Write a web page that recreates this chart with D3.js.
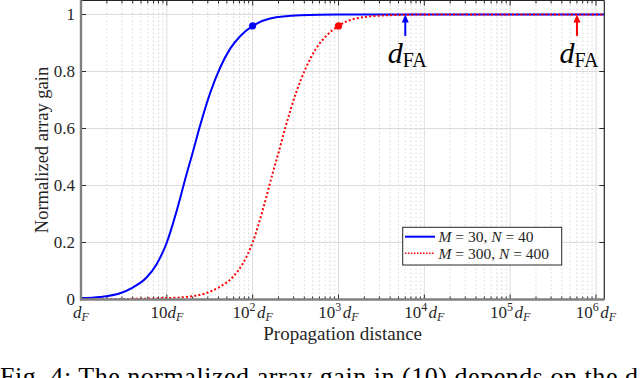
<!DOCTYPE html>
<html><head><meta charset="utf-8">
<script src="https://cdn.jsdelivr.net/npm/d3@7"></script>
<style>
html,body{margin:0;padding:0;background:#fff;}
svg{display:block;}
</style></head>
<body>
<svg id="chart" width="640" height="378"></svg>
<script>
// ---- data ----
const blueDist = [1, 1.66, 2.85, 4, 5.8, 7.6, 10, 13, 17, 20, 24.4, 32, 42, 55, 71, 100, 160, 360, 1000, 1.25e6];
const blueGain = [0.005, 0.009, 0.022, 0.042, 0.077, 0.124, 0.2, 0.31, 0.44, 0.515, 0.61, 0.725, 0.815, 0.881, 0.923, 0.96, 0.986, 0.997, 1.0, 1.0];
const redDist = [1, 3, 10, 16.6, 28.5, 40, 58, 76, 100, 130, 170, 200, 244, 320, 420, 550, 710, 1000, 1600, 3600, 10000, 1.25e6];
const redGain = [0.0005, 0.0018, 0.005, 0.009, 0.022, 0.042, 0.077, 0.124, 0.2, 0.31, 0.44, 0.515, 0.61, 0.725, 0.815, 0.881, 0.923, 0.96, 0.986, 0.997, 1.0, 1.0];
const markerDist = [100, 1000];
const markerGain = [0.96, 0.96];
const dfaDist = [6000, 6e5];
const seriesLabels = [["M"," = 30, ","N"," = 40"], ["M"," = 300, ","N"," = 400"]];
const seriesColors = ["#0000ff", "#ff0000"];
const xTickExp = [0, 1, 2, 3, 4, 5, 6];
const yTicks = [0, 0.2, 0.4, 0.6, 0.8, 1];
const yTickLabels = ["0", "0.2", "0.4", "0.6", "0.8", "1"];
const xTitle = "Propagation distance";
const yTitle = "Normalized array gain";
const caption = "Fig. 4: The normalized array gain in (10) depends on the d";

// ---- layout ----
const FONT = "Liberation Serif";
const L = 81, R = 604.3, T = 0.5, B = 299.5;
const svg = d3.select("#chart");
const x = d3.scaleLog().domain([1, 1.25e6]).range([L, R]);
const y = d3.scaleLinear().domain([0, 1.05]).range([B, T - 0.25]);
const txt = (sel) => sel.append("text").attr("font-family", FONT).attr("fill", "#262626");

// minor grid (vertical dotted)
const minors = [];
for (let e = 0; e <= 6; e++) for (let k = 2; k <= 9; k++) { const v = k * Math.pow(10, e); if (v < 1.25e6) minors.push(v); }
svg.append("g").selectAll("line").data(minors).join("line")
  .attr("x1", d => x(d)).attr("x2", d => x(d)).attr("y1", T).attr("y2", B)
  .attr("stroke", "#d4d4d4").attr("stroke-width", 1).attr("stroke-dasharray", "1.5,2.5");
// major grid
const majors = xTickExp.map(e => Math.pow(10, e));
svg.append("g").selectAll("line").data(majors.slice(1)).join("line")
  .attr("x1", d => x(d)).attr("x2", d => x(d)).attr("y1", T).attr("y2", B)
  .attr("stroke", "#dcdcdc").attr("stroke-width", 1);
svg.append("g").selectAll("line").data(yTicks.slice(1)).join("line")
  .attr("x1", L).attr("x2", R).attr("y1", d => y(d)).attr("y2", d => y(d))
  .attr("stroke", "#dcdcdc").attr("stroke-width", 1);

// ticks
const tk = svg.append("g").attr("stroke", "#262626").attr("stroke-width", 1);
majors.forEach(v => {
  tk.append("line").attr("x1", x(v)).attr("x2", x(v)).attr("y1", B).attr("y2", B - 5);
  tk.append("line").attr("x1", x(v)).attr("x2", x(v)).attr("y1", T).attr("y2", T + 5);
});
minors.forEach(v => {
  tk.append("line").attr("x1", x(v)).attr("x2", x(v)).attr("y1", B).attr("y2", B - 3);
  tk.append("line").attr("x1", x(v)).attr("x2", x(v)).attr("y1", T).attr("y2", T + 3);
});
yTicks.forEach(v => {
  tk.append("line").attr("x1", L).attr("x2", L + 5).attr("y1", y(v)).attr("y2", y(v));
  tk.append("line").attr("x1", R).attr("x2", R - 5).attr("y1", y(v)).attr("y2", y(v));
});

// curves
const line = d3.line().x(d => x(d[0])).y(d => y(d[1])).curve(d3.curveMonotoneX);
const blueData = blueDist.map((d, i) => [d, blueGain[i]]);
const redData = redDist.map((d, i) => [d, redGain[i]]);
svg.append("clipPath").attr("id", "clp").append("rect").attr("x", L).attr("y", T).attr("width", R - L).attr("height", B - T);
const plot = svg.append("g").attr("clip-path", "url(#clp)");
plot.append("path").attr("d", line(blueData)).attr("fill", "none").attr("stroke", seriesColors[0]).attr("stroke-width", 2);
plot.append("path").attr("d", line(redData)).attr("fill", "none").attr("stroke", seriesColors[1]).attr("stroke-width", 2).attr("stroke-dasharray", "2,2.2");

// markers
markerDist.forEach((d, i) => {
  svg.append("circle").attr("cx", x(d)).attr("cy", y(markerGain[i])).attr("r", 3.6).attr("fill", seriesColors[i]);
});

// axes frame
svg.append("line").attr("x1", R).attr("x2", R).attr("y1", T).attr("y2", B).attr("stroke", "#262626").attr("stroke-width", 1.2);
svg.append("line").attr("x1", L).attr("x2", R).attr("y1", T).attr("y2", T).attr("stroke", "#262626").attr("stroke-width", 1.2);
svg.append("line").attr("x1", L).attr("x2", L).attr("y1", T - 1).attr("y2", B + 1).attr("stroke", "#808080").attr("stroke-width", 2.4);
svg.append("line").attr("x1", L - 1).attr("x2", R).attr("y1", B).attr("y2", B).attr("stroke", "#808080").attr("stroke-width", 2.4);

// arrows + d_FA labels
dfaDist.forEach((d, i) => {
  const cx = x(d), c = seriesColors[i];
  svg.append("line").attr("x1", cx).attr("x2", cx).attr("y1", y(0.925)).attr("y2", y(0.99)).attr("stroke", c).attr("stroke-width", 2);
  svg.append("path").attr("d", `M${cx},${y(1)} L${cx - 3.5},${y(1) + 8} L${cx + 3.5},${y(1) + 8} Z`).attr("fill", c);
  const t = txt(svg).attr("x", cx + 2).attr("y", 63).attr("text-anchor", "middle").attr("fill", "#000");
  t.append("tspan").attr("font-style", "italic").attr("font-size", 30).text("d");
  t.append("tspan").attr("font-size", 20).attr("dy", 4).text("FA");
});

// x tick labels
xTickExp.forEach(e => {
  const t = txt(svg).attr("x", x(Math.pow(10, e))).attr("y", 318).attr("text-anchor", "middle").attr("font-size", 17);
  if (e === 1) t.append("tspan").text("10");
  if (e > 1) { t.append("tspan").text("10"); t.append("tspan").attr("font-size", 12).attr("dy", -7).text(e); t.append("tspan").attr("dy", 7).text("\u200A"); }
  t.append("tspan").attr("font-style", "italic").text("d");
  t.append("tspan").attr("font-style", "italic").attr("font-size", 12).attr("dy", 3).text("F");
});
// y tick labels
yTicks.forEach((v, i) => {
  txt(svg).attr("x", 75).attr("y", y(v)).attr("dy", "0.33em").attr("text-anchor", "end").attr("font-size", 17).text(yTickLabels[i]);
});
// titles
txt(svg).attr("x", (L + R) / 2).attr("y", 340).attr("text-anchor", "middle").attr("font-size", 19).text(xTitle);
txt(svg).attr("transform", `translate(48,${(T + B) / 2}) rotate(-90)`).attr("text-anchor", "middle").attr("font-size", 18.5).text(yTitle);

// legend
const lg = svg.append("g");
lg.append("rect").attr("x", 402.7).attr("y", 227.3).attr("width", 159).attr("height", 37.7).attr("fill", "#fff").attr("stroke", "#262626").attr("stroke-width", 1);
seriesLabels.forEach((parts, i) => {
  const yy = 236.7 + i * 16.6;
  lg.append("line").attr("x1", 405).attr("x2", 435).attr("y1", yy).attr("y2", yy).attr("stroke", seriesColors[i]).attr("stroke-width", i === 0 ? 2 : 1.5).attr("stroke-dasharray", i === 0 ? null : "1.5,1.5");
  const t = txt(lg).attr("x", 438.5).attr("y", yy).attr("dy", "0.35em").attr("font-size", 15.5);
  parts.forEach((p, j) => t.append("tspan").attr("font-style", j % 2 === 0 ? "italic" : "normal").text(p));
});

// caption (cut off at bottom, as in the reference)
txt(svg).attr("x", 0).attr("y", 385).attr("font-size", 26).attr("fill", "#000")
  .attr("textLength", 638).attr("lengthAdjust", "spacing").text(caption);
</script>
</body></html>
